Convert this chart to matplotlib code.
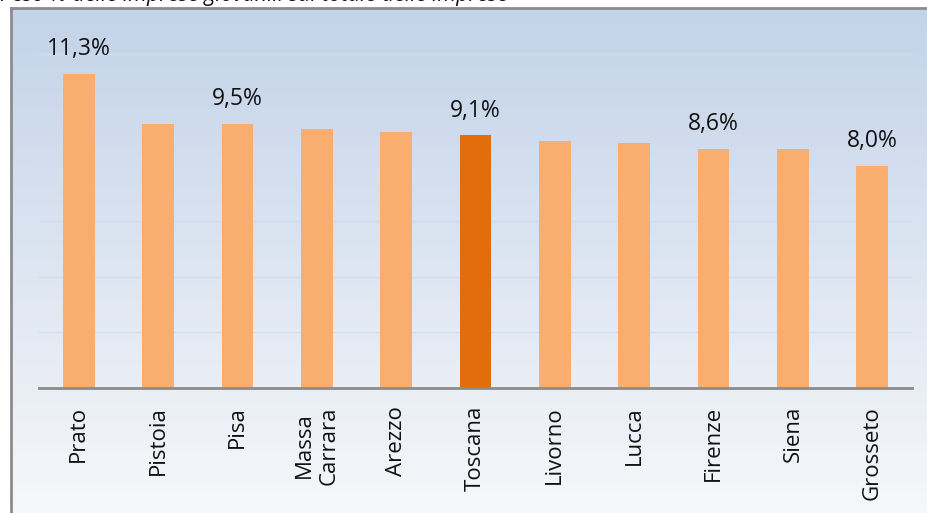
import numpy as np
import matplotlib
matplotlib.use("Agg")
import matplotlib.pyplot as plt

# data
provinces = ["Prato", "Pistoia", "Pisa", "Massa\nCarrara", "Arezzo", "Toscana",
             "Livorno", "Lucca", "Firenze", "Siena", "Grosseto"]
share = [11.3, 9.5, 9.5, 9.3, 9.2, 9.1, 8.9, 8.8, 8.6, 8.6, 8.0]
labelled = ["Prato", "Pisa", "Toscana", "Firenze", "Grosseto"]
title = "Peso % delle imprese giovanili sul totale delle imprese"

LIGHT = "#F9AD6E"
DARK = "#E36C0B"

plt.rcParams["font.family"] = ["Open Sans", "DejaVu Sans"]

W, H = 928, 513
fig = plt.figure(figsize=(W / 100, H / 100), dpi=100)
fig.patch.set_facecolor("white")

# framed chart area with vertical gradient
bg = fig.add_axes([11 / W, 0, 1 - 11 / W, 1 - 8 / H])
grad = np.linspace(0, 1, 256).reshape(-1, 1)
top = np.array([0.765, 0.827, 0.914])
bot = np.array([0.965, 0.970, 0.980])
img = top[None, None, :] * (1 - grad[:, :, None]) + bot[None, None, :] * grad[:, :, None]
bg.imshow(img, aspect="auto", extent=[0, 1, 0, 1])
bg.set_xticks([])
bg.set_yticks([])
for side in ["right", "bottom"]:
    bg.spines[side].set_visible(False)
for side in ["left", "top"]:
    bg.spines[side].set_color("#8c8c8c")
    bg.spines[side].set_linewidth(2)

ax = fig.add_axes([39 / W, 1 - 388 / H, (912 - 39) / W, (388 - 53) / H])
ax.patch.set_alpha(0)

x = np.arange(len(provinces))
colors = [DARK if p == "Toscana" else LIGHT for p in provinces]
ax.bar(x, share, width=0.4, color=colors, zorder=3)

for xi, p, v in zip(x, provinces, share):
    if p in labelled:
        ax.annotate(f"{v:.1f}%".replace(".", ","), (xi, v), xytext=(0, 9),
                    textcoords="offset points", ha="center", va="bottom",
                    fontsize=16.5, color="#111111")

ax.set_xlim(-0.5, len(provinces) - 0.5)
ax.set_ylim(0, 12.05)
ax.set_yticks(np.arange(0, 13, 2))
ax.yaxis.grid(True, color="#d0dcef", linewidth=1.0, zorder=0)
ax.tick_params(axis="y", left=False, labelleft=False)
ax.set_xticks(x)
ax.set_xticklabels(provinces, rotation=90, fontsize=16, color="#111111",
                   multialignment="center")
ax.tick_params(axis="x", length=0, pad=13)
for side in ["left", "right", "top"]:
    ax.spines[side].set_visible(False)
ax.spines["bottom"].set_color("#8c8c8c")
ax.spines["bottom"].set_linewidth(2)
ax.spines["bottom"].set_zorder(4)

fig.text(0.0, 1 - 1 / H, title, style="italic", fontsize=15.5, color="#111111",
         ha="left", va="baseline")

fig.savefig("out.png", dpi=100, facecolor="white")
